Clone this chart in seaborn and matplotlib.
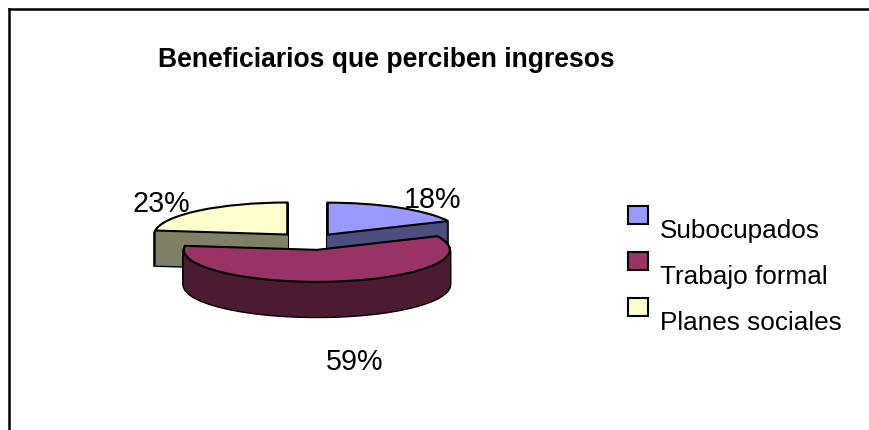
import matplotlib
matplotlib.use("Agg")
import matplotlib.pyplot as plt
import seaborn as sns
from matplotlib.legend_handler import HandlerPatch
from matplotlib.patches import Rectangle

TITLE = "Beneficiarios que perciben ingresos"
categories = ["Subocupados", "Trabajo formal", "Planes sociales"]
values = [18, 59, 23]
explode = [0.235, 0.28, 0.27]
top_colors = ["#9999FF", "#993366", "#FFFFCC"]
side_colors = ["#4D4D80", "#4D1A33", "#808066"]

sns.set_theme(style="white", palette=top_colors)
plt.rcParams["font.family"] = ["Liberation Sans", "DejaVu Sans"]

W, H = 869, 430
LEFT, TOP = 9, 9          # frame lines, pixels
CX, CY = 311, 241         # pie centre, pixels
RX, RY = 133, 32          # ellipse radii, pixels
DEPTH = 35                # extrusion, pixels

fig = plt.figure(figsize=(W / 100, H / 100), dpi=100, facecolor="white")
ax = fig.add_axes([LEFT / W, 0, (W - LEFT) / W, (H - TOP) / H])


def px(x, y):
    """Pixel position in the reference -> data coordinates of the axes."""
    return (x - CX) / RX, (CY - y) / RY


def draw_layer(offset, colors, edge, lw, zorders):
    wedges, _ = ax.pie(values, explode=explode, colors=colors, startangle=90,
                       counterclock=False, center=(0, -offset / RY), frame=True,
                       wedgeprops=dict(edgecolor=edge, linewidth=lw))
    for w, z in zip(wedges, zorders):
        w.set_zorder(z)
    return wedges


# extruded sides: black halo first, fill above it, so only the outline stays
ZBACK = [1, 4, 1]
for d in range(DEPTH, 0, -1):
    draw_layer(d, ["none"] * 3, "black", 2.0, [z for z in ZBACK])
for d in range(DEPTH, 0, -1):
    draw_layer(d, side_colors, "none", 0, [z + 1 for z in ZBACK])
tops = draw_layer(0, top_colors, "black", 1.5, [z + 2 for z in ZBACK])

ax.set_aspect("auto")
x0, y1 = px(LEFT, TOP)
x1, y0 = px(W, H)
ax.set_xlim(x0, x1)
ax.set_ylim(y0, y1)
ax.set_xticks([])
ax.set_yticks([])
ax.set_frame_on(True)
for side, visible in dict(top=True, left=True, right=False, bottom=False).items():
    ax.spines[side].set_visible(visible)
    ax.spines[side].set_color("black")
    ax.spines[side].set_linewidth(1.8)

ax.text(*px(386, 60), TITLE, ha="center", va="center", fontsize=19.1,
        fontweight="bold", color="black", zorder=10)

label_px = [(433, 200), (355, 362), (161, 204)]
for v, (lx, ly) in zip(values, label_px):
    ax.text(*px(lx, ly), f"{v}%", ha="center", va="center", fontsize=20.7,
            color="black", zorder=10)


def raised_box(legend, orig_handle, xdescent, ydescent, width, height, fontsize):
    return Rectangle((-xdescent, -ydescent + 10), width, height)


handles = [Rectangle((0, 0), 1, 1, facecolor=c, edgecolor="black", linewidth=1.5)
           for c in top_colors]
fs = 18.8
leg = ax.legend(handles, categories, loc="upper left",
                bbox_to_anchor=(628 / W, 1 - 219 / H), bbox_transform=fig.transFigure,
                frameon=False, fontsize=fs, borderpad=0, borderaxespad=0,
                labelcolor="black",
                handlelength=20 / (fs * 100 / 72), handleheight=18 / (fs * 100 / 72),
                handletextpad=12 / (fs * 100 / 72), labelspacing=0.835,
                handler_map={Rectangle: HandlerPatch(patch_func=raised_box)})
leg.set_zorder(10)

fig.savefig("out.png", dpi=100)
